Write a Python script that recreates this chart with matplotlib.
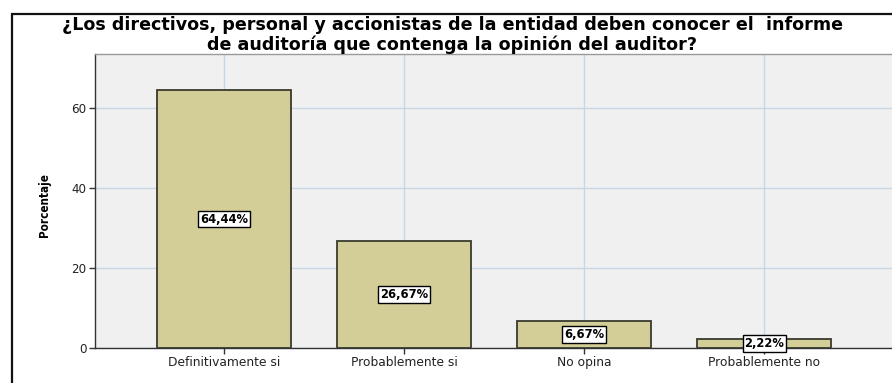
import matplotlib
matplotlib.use("Agg")
import matplotlib.pyplot as plt
from matplotlib.patches import Rectangle

categories = ["Definitivamente si", "Probablemente si", "No opina", "Probablemente no"]
percentages = [64.44, 26.67, 6.67, 2.22]
value_labels = ["64,44%", "26,67%", "6,67%", "2,22%"]
y_ticks = [0, 20, 40, 60]

title_lines = ["¿Los directivos, personal y accionistas de la entidad deben conocer el  informe",
               "de auditoría que contenga la opinión del auditor?"]

W, H = 892, 383
fig = plt.figure(figsize=(W / 100, H / 100), dpi=100)
fig.patch.set_facecolor("white")

# outer frame of the chart (left and top edges visible)
fig.patches.append(Rectangle((12 / W, -0.2), 1.2, 1 - 14 / H + 0.2,
                             transform=fig.transFigure, fill=False,
                             edgecolor="#111111", linewidth=1.6))

left, right, bottom, top = 95 / W, 894 / W, 1 - 348 / H, 1 - 54 / H
ax = fig.add_axes([left, bottom, right - left, top - bottom])
ax.set_facecolor("#F0F0F0")

x = list(range(len(categories)))
ax.bar(x, percentages, width=0.745, color="#D3CE97", edgecolor="#3A3A2E",
       linewidth=1.3, zorder=3)

for xi, val, lab in zip(x, percentages, value_labels):
    ax.text(xi, val / 2, lab, ha="center", va="center", fontsize=8.3,
            fontweight="bold", family="DejaVu Sans", color="black", zorder=5,
            bbox=dict(boxstyle="square,pad=0.15", facecolor="white",
                      edgecolor="black", linewidth=1.0))

ax.set_xlim(-0.717, 3.72)
ax.set_ylim(0, 73.5)
ax.set_xticks(x)
ax.set_xticklabels(categories, fontsize=8.8, family="DejaVu Sans")
ax.set_yticks(y_ticks)
ax.set_yticklabels([str(t) for t in y_ticks], fontsize=8.6, family="DejaVu Sans")
ax.tick_params(axis="both", direction="out", length=4, width=1, color="#333333",
               labelcolor="#222222", pad=2)

ax.grid(True, color="#C6D7E8", linewidth=1.0, zorder=0)
ax.set_axisbelow(True)

for side in ["left", "bottom"]:
    ax.spines[side].set_color("#333333")
    ax.spines[side].set_linewidth(1.0)
ax.spines["top"].set_color("#9A9A9A")
ax.spines["top"].set_linewidth(1.0)
ax.spines["right"].set_visible(False)

fig.text(44 / W, 1 - 205 / H, "Porcentaje", rotation=90, ha="center", va="center",
         fontsize=8.4, fontweight="bold", family="DejaVu Sans", fontstretch="condensed")

fig.text(452 / W, 1 - 25 / H, title_lines[0], ha="center", va="center", fontsize=12.6,
         fontweight="bold", family="DejaVu Sans", color="black")
fig.text(452 / W, 1 - 44.5 / H, title_lines[1], ha="center", va="center", fontsize=12.6,
         fontweight="bold", family="DejaVu Sans", color="black")

fig.savefig("out.png", dpi=100)
